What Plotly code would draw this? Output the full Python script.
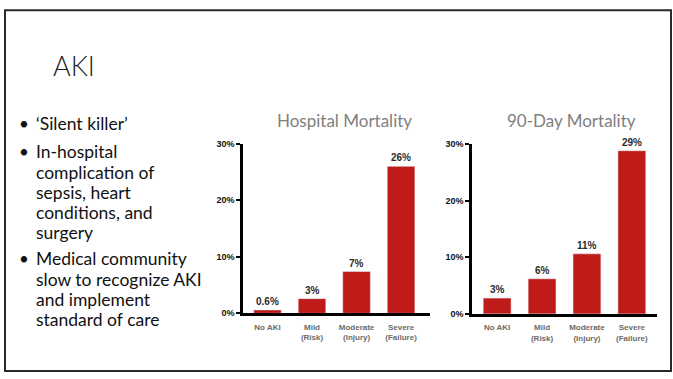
import plotly.graph_objects as go

W, H = 673, 379

# ---- data ----
categories = ["No AKI", "Mild<br>(Risk)", "Moderate<br>(Injury)", "Severe<br>(Failure)"]
hospital_mortality = [0.6, 2.6, 7.4, 26.0]
hospital_labels = ["0.6%", "3%", "7%", "26%"]
day90_mortality = [2.8, 6.2, 10.6, 28.8]
day90_labels = ["3%", "6%", "11%", "29%"]
y_tickvals = [0, 10, 20, 30]
y_ticktext = ["0%", "10%", "20%", "30%"]

slide_title = "AKI"
bullets = [
    ["\u2018Silent killer\u2019"],
    ["In-hospital", "complication of", "sepsis, heart", "conditions, and", "surgery"],
    ["Medical community", "slow to recognize AKI", "and implement", "standard of care"],
]
chart_titles = ["Hospital Mortality", "90-Day Mortality"]

BAR = "#BE1B19"
TXT_FONT = "Lato, 'Open Sans', sans-serif"
SMALL_FONT = "Liberation Sans, Arial"


def xp(px):
    return px / W


def yp(py):
    return 1 - py / H


fig = go.Figure()
fig.add_trace(go.Bar(x=categories, y=hospital_mortality, marker_color=BAR,
                     width=0.62, xaxis="x", yaxis="y", hoverinfo="skip"))
fig.add_trace(go.Bar(x=categories, y=day90_mortality, marker_color=BAR,
                     width=0.62, xaxis="x2", yaxis="y2", hoverinfo="skip"))

annotations = []
# value labels above bars
for ax, vals, labs in (("", hospital_mortality, hospital_labels),
                       ("2", day90_mortality, day90_labels)):
    for c, v, l in zip(categories, vals, labs):
        annotations.append(dict(
            x=c, y=v, xref="x" + ax, yref="y" + ax, text=l, showarrow=False,
            yanchor="bottom", yshift=1,
            font=dict(family=SMALL_FONT, size=10, color="#2b2b2b", weight="bold")))

# chart titles
annotations.append(dict(x=xp(344), y=yp(119), xref="paper", yref="paper", text=chart_titles[0],
                        showarrow=False, xanchor="center", yanchor="middle",
                        font=dict(family=TXT_FONT, size=17, color="#808080")))
annotations.append(dict(x=xp(571), y=yp(119), xref="paper", yref="paper", text=chart_titles[1],
                        showarrow=False, xanchor="center", yanchor="middle",
                        font=dict(family=TXT_FONT, size=17, color="#808080")))

# slide title
annotations.append(dict(x=xp(51), y=yp(62), xref="paper", yref="paper", text=slide_title,
                        showarrow=False, xanchor="left", yanchor="middle",
                        font=dict(family=TXT_FONT, size=27, color="#222222", weight=300)))

# bullets
bullet_line_y = [[121.5], [150.7, 171.7, 192.7, 213.3, 233.3], [260, 281.7, 302.7, 323.3]]
for lines, ys in zip(bullets, bullet_line_y):
    annotations.append(dict(x=xp(17), y=yp(ys[0]), xref="paper", yref="paper", text="\u2022",
                            showarrow=False, xanchor="left", yanchor="middle",
                            font=dict(family=TXT_FONT, size=17, color="#111111")))
    for t, yy in zip(lines, ys):
        annotations.append(dict(x=xp(34), y=yp(yy), xref="paper", yref="paper", text=t,
                                showarrow=False, xanchor="left", yanchor="middle",
                                font=dict(family=TXT_FONT, size=17.5, color="#111111")))

axis_common_y = dict(range=[0, 30], tickvals=y_tickvals, ticktext=y_ticktext,
                     showgrid=False, zeroline=False, showline=True, linecolor="black",
                     linewidth=2.5, ticks="outside", ticklen=4, tickwidth=1.5, tickcolor="black",
                     tickfont=dict(family=SMALL_FONT, size=9, color="#111111", weight="bold"),
                     fixedrange=True)
axis_common_x = dict(type="category", showgrid=False, zeroline=False, showline=True,
                     linecolor="black", linewidth=2.5, ticks="", ticklabelstandoff=4,
                     tickfont=dict(family=SMALL_FONT, size=8, color="#6b6b6b", weight="bold"),
                     fixedrange=True)

fig.update_layout(
    width=W, height=H,
    margin=dict(l=0, r=0, t=0, b=0),
    paper_bgcolor="white", plot_bgcolor="white",
    showlegend=False,
    bargap=0.3,
    xaxis=dict(domain=[xp(243), xp(430)], range=[-0.55, 3.65], anchor="y", **axis_common_x),
    yaxis=dict(domain=[yp(316.7), yp(142.5)], anchor="x", **axis_common_y),
    xaxis2=dict(domain=[xp(472), xp(657)], range=[-0.56, 3.56], anchor="y2", **axis_common_x),
    yaxis2=dict(domain=[yp(317.3), yp(142.7)], anchor="x2", **axis_common_y),
    annotations=annotations,
    shapes=[dict(type="rect", xref="paper", yref="paper", x0=xp(5), x1=xp(671),
                 y0=yp(376), y1=yp(5.5), line=dict(color="#2a2a2a", width=2))],
)

fig.write_html("out.html")
